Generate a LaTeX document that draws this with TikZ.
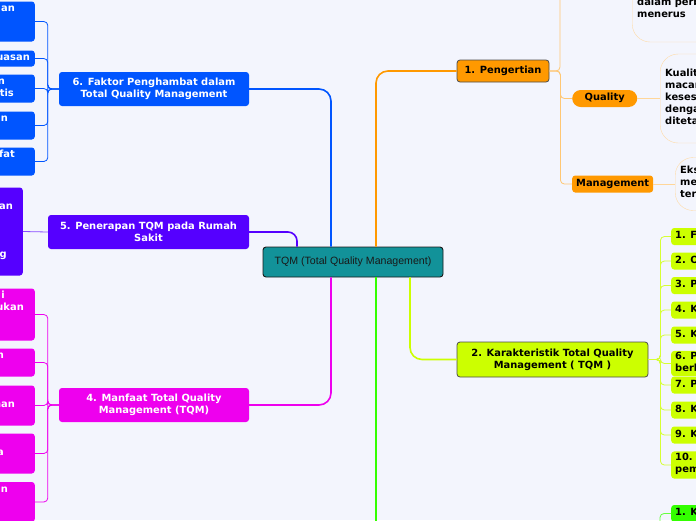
\documentclass[tikz,border=0pt]{standalone}
\usepackage{fontspec}
\setmainfont{DejaVu Sans}
\newfontfamily\tqmfont{Liberation Sans}
\definecolor{canvas}{HTML}{F3F5FD}
\definecolor{tqmteal}{HTML}{129299}
\definecolor{tqmorange}{HTML}{FF9900}
\definecolor{tqmlime}{HTML}{CCFF00}
\definecolor{tqmgreen}{HTML}{33FF00}
\definecolor{tqmmagenta}{HTML}{EE00EE}
\definecolor{tqmpurple}{HTML}{5500FF}
\definecolor{tqmblue}{HTML}{0055FF}
\newcommand{\frag}[2]{#1\kern#2pt\strut}
\begin{document}
\begin{tikzpicture}[x=1pt,y=-1pt,
  bold/.style={font=\bfseries\fontsize{9.9}{12}\selectfont},
  topic/.style={bold,rounded corners=3pt,align=center,inner sep=0pt},
  kid/.style={bold,rounded corners=3pt,align=left,anchor=west,inner xsep=4pt,inner ysep=2.5pt,
    execute at begin node=\strut,execute at end node=\strut},
  leftkid/.style={bold,rounded corners=3pt,align=right,anchor=east,text width=80pt,
    inner xsep=4pt,inner ysep=2pt,text=white},
  note/.style={bold,draw=tqmorange!35,fill=canvas,rounded corners=18pt,align=left,anchor=west,
    inner xsep=5pt,inner ysep=3pt,execute at begin node=\strut,execute at end node=\strut},
  link/.style={line width=1.6pt,rounded corners=12pt},
  sublink/.style={line width=0.8pt,rounded corners=4pt}]
\useasboundingbox (0,0) rectangle (696,520);
\fill[canvas] (0,0) rectangle (696,520);
\clip (0,0) rectangle (696,520);

\node[draw=black!90,line width=0.9pt,fill=tqmteal,rounded corners=3pt,minimum width=180pt,minimum height=30pt,
  font=\tqmfont\fontsize{10.6}{12}\selectfont,text=black!90] (tqm) at (353,262) {TQM (Total Quality Management)};

% 1. Pengertian
\node[topic,draw=black!70,line width=0.8pt,fill=tqmorange,minimum width=92pt,minimum height=22pt] (pengertian) at (503,71) {1. Pengertian};
\node[kid,fill=tqmorange,rounded corners=8.5pt,minimum width=65pt] (quality) at (572,98.5) {Quality};
\node[kid,fill=tqmorange,minimum width=80pt] (management) at (572,184) {Management};
\node[note,minimum height=64pt] (totalnote) at (632,10) {dalam perbaikan terus\\menerus};
\node[note,minimum height=89pt] (qualitynote) at (660,98.5) {Kualitas merupakan\\macam-macam ukuran\\kesesuaian produk\\dengan standar yang\\ditetapkan};
\node[note,minimum height=53pt] (mgmtnote) at (675,184) {Eksekusi untuk\\mengelola dan\\terus memperbaiki};
\coordinate (totaltrunk) at (560,-5);

% 2. Karakteristik
\node[topic,draw=black!70,line width=0.8pt,fill=tqmlime,minimum width=191pt,minimum height=35pt] (karakter) at (552.5,359.5) {2. Karakteristik Total Quality\\Management ( TQM )};
\node[kid,fill=tqmlime] (k1) at (671,236.5) {1. Fokus pada pelanggan};
\node[kid,fill=tqmlime] (k2) at (671,261) {2. Obsesi terhadap kualitas};
\node[kid,fill=tqmlime] (k3) at (671,285.5) {3. Pendekatan ilmiah};
\node[kid,fill=tqmlime] (k4) at (671,310) {4. Komitmen jangka panjang};
\node[kid,fill=tqmlime] (k5) at (671,335) {5. Kerjasama tim};
\node[kid,fill=tqmlime,inner ysep=1pt] (k6) at (671,363.5) {6. Perbaikan sistem secara\\berkesinambungan};
\node[kid,fill=tqmlime] (k7) at (671,385) {7. Pendidikan dan pelatihan};
\node[kid,fill=tqmlime] (k8) at (671,410) {8. Kebebasan yang terkendali};
\node[kid,fill=tqmlime] (k9) at (671,435) {9. Kesatuan tujuan};
\node[kid,fill=tqmlime,inner ysep=2pt] (k10) at (671,465) {10. Adanya keterlibatan dan\\pemberdayaan karyawan};

% 3. (below the page)
\node[kid,fill=tqmgreen] (g1) at (671,513.5) {1. Kepuasan pelanggan};
\coordinate (prinsiptrunk) at (376,530);
\coordinate (prinsipkids) at (660,530);

% 4. Manfaat
\node[topic,fill=tqmmagenta,text=white,minimum width=190pt,minimum height=34pt] (manfaat) at (154,405) {4. Manfaat Total Quality\\Management (TQM)};
\node[leftkid,fill=tqmmagenta] (manfaat1) at (35,314.5) {\frag{i}{26}\\\frag{ukan}{7}\\\strut\\\strut};
\node[leftkid,fill=tqmmagenta] (manfaat2) at (35,362.5) {\frag{n}{27}\\\strut};
\node[leftkid,fill=tqmmagenta] (manfaat3) at (35,405.5) {\strut\\\frag{nan}{16}\\\strut};
\node[leftkid,fill=tqmmagenta] (manfaat4) at (35,453.5) {\strut\\\frag{a}{27}\\\strut};
\node[leftkid,fill=tqmmagenta] (manfaat5) at (35,502) {\frag{n}{23}\\\strut\\\strut};

% 5. Penerapan
\node[topic,fill=tqmpurple,text=white,minimum width=201pt,minimum height=34pt] (penerapan) at (148.5,232) {5. Penerapan TQM pada Rumah\\Sakit};
\node[leftkid,fill=tqmpurple] (rs1) at (23,231.5) {\strut\\\frag{an}{6}\\\strut\\\strut\\\strut\\\frag{g}{12}\\\strut};

% 6. Faktor Penghambat
\node[topic,fill=tqmblue,text=white,minimum width=190pt,minimum height=34pt] (faktor) at (154,89) {6. Faktor Penghambat dalam\\Total Quality Management};
\node[leftkid,fill=tqmblue] (hambat1) at (35,21.5) {\frag{an}{16}\\\strut\\\strut};
\node[leftkid,fill=tqmblue] (hambat2) at (35,58.5) {\frag{uasan}{1}};
\node[leftkid,fill=tqmblue] (hambat3) at (35,88.5) {\frag{n}{26}\\\frag{tis}{17}};
\node[leftkid,fill=tqmblue] (hambat4) at (35,125.5) {\frag{an}{23}\\\strut};
\node[leftkid,fill=tqmblue] (hambat5) at (35,161.5) {\frag{fat}{16}\\\strut};

\draw[link,tqmorange] ([xshift=23pt]tqm.north) |- (pengertian.west);
\draw[link,tqmlime] ([xshift=57pt]tqm.south) |- (karakter.west);
\draw[link,tqmgreen] ([xshift=23pt]tqm.south) -- (prinsiptrunk);
\draw[link,tqmmagenta] ([xshift=-22pt]tqm.south) |- (manfaat.east);
\draw[link,tqmpurple,rounded corners=9pt] ([xshift=-56pt]tqm.north) |- (penerapan.east);
\draw[link,tqmblue] ([xshift=-22pt]tqm.north) |- (faktor.east);

\draw[sublink,tqmorange!55!white] (pengertian.east) -| (totaltrunk);
\draw[sublink,tqmorange!55!white] (pengertian.east) -- ++(11,0) |- (quality.west);
\draw[sublink,tqmorange!55!white] (pengertian.east) -- ++(11,0) |- (management.west);
\draw[sublink,tqmorange!40!white] (quality.east) -- (qualitynote.west);
\draw[sublink,tqmorange!40!white] (management.east) -- (mgmtnote.west);

\draw[sublink,tqmlime!80!white] (karakter.east) -- ++(12,0) |- (k1.west);
\draw[sublink,tqmlime!80!white] (karakter.east) -- ++(12,0) |- (k2.west);
\draw[sublink,tqmlime!80!white] (karakter.east) -- ++(12,0) |- (k3.west);
\draw[sublink,tqmlime!80!white] (karakter.east) -- ++(12,0) |- (k4.west);
\draw[sublink,tqmlime!80!white] (karakter.east) -- ++(12,0) |- (k5.west);
\draw[sublink,tqmlime!80!white] (karakter.east) -- ++(12,0) |- (k6.west);
\draw[sublink,tqmlime!80!white] (karakter.east) -- ++(12,0) |- (k7.west);
\draw[sublink,tqmlime!80!white] (karakter.east) -- ++(12,0) |- (k8.west);
\draw[sublink,tqmlime!80!white] (karakter.east) -- ++(12,0) |- (k9.west);
\draw[sublink,tqmlime!80!white] (karakter.east) -- ++(12,0) |- (k10.west);
\draw[sublink,tqmgreen!75!white] (prinsipkids) |- (g1.west);

\draw[sublink,tqmmagenta] (manfaat.west) -- ++(-11,0) |- (manfaat1.east);
\draw[sublink,tqmmagenta] (manfaat.west) -- ++(-11,0) |- (manfaat2.east);
\draw[sublink,tqmmagenta] (manfaat.west) -- ++(-11,0) |- (manfaat3.east);
\draw[sublink,tqmmagenta] (manfaat.west) -- ++(-11,0) |- (manfaat4.east);
\draw[sublink,tqmmagenta] (manfaat.west) -- ++(-11,0) |- (manfaat5.east);
\draw[sublink,tqmpurple!70!white] (penerapan.west) -- (rs1.east);
\draw[sublink,tqmblue] (faktor.west) -- ++(-11,0) |- (hambat1.east);
\draw[sublink,tqmblue] (faktor.west) -- ++(-11,0) |- (hambat2.east);
\draw[sublink,tqmblue] (faktor.west) -- ++(-11,0) |- (hambat3.east);
\draw[sublink,tqmblue] (faktor.west) -- ++(-11,0) |- (hambat4.east);
\draw[sublink,tqmblue] (faktor.west) -- ++(-11,0) |- (hambat5.east);
\end{tikzpicture}
\end{document}
